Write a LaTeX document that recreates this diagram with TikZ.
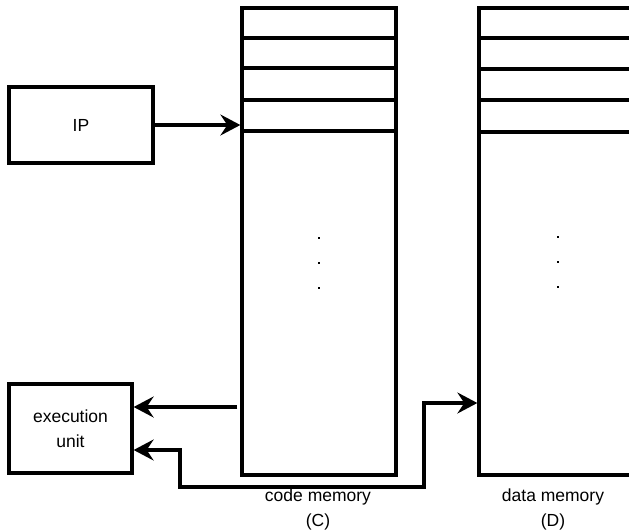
\documentclass[tikz,border=0pt]{standalone}
\usepackage{fontspec}
\setmainfont{Liberation Sans}
\usetikzlibrary{arrows.meta}
\begin{document}
\begin{tikzpicture}[x=1pt,y=-1pt,
  tip/.tip={Stealth[length=20pt,width=21pt,inset=7pt]},
  box/.style={draw,line width=3.3pt,rectangle,inner sep=0pt},
  cell/.style={line width=3.3pt},
  link/.style={line width=3.1pt,-tip},
  both/.style={line width=3.1pt,tip-tip},
  lbl/.style={font=\fontsize{17.5}{25}\selectfont,align=center,inner sep=0pt},
  dot/.style={rectangle,fill,inner sep=0pt,minimum size=2.4pt}]
\useasboundingbox (0,0) rectangle (629,530);
\clip (0,0) rectangle (629,530);

% processor side
\node[box,minimum width=144pt,minimum height=76pt,lbl] (ip) at (81,125) {IP};
\node[box,minimum width=123pt,minimum height=89pt,lbl] (exec) at (70.5,428.5) {execution\\unit};

% code memory with its first cells
\node[box,minimum width=154pt,minimum height=467pt] (code) at (319,241.5) {};
\foreach \y in {38,68,100,131}
  \draw[cell] (code.west |- 0,\y) -- (code.east |- 0,\y);
\foreach \y in {238,263,288}
  \node[dot] at (319,\y) {};
\node[lbl] (codelbl) at (318,509.5) {code memory\\(C)};

% data memory, running off the right edge
\node[box,minimum width=160pt,minimum height=467pt] (data) at (559,241.5) {};
\foreach \y in {38,69,100,132}
  \draw[cell] (data.west |- 0,\y) -- (data.east |- 0,\y);
\foreach \y in {237,262,287}
  \node[dot] at (558,\y) {};
\node[lbl] (datalbl) at (553,509.5) {data memory\\(D)};

% connections
\draw[link] (ip.east |- 0,125) -- (code.west |- 0,125);
\draw[link] ([xshift=-3pt]code.west |- 0,407) -- (exec.east |- 0,407);
\draw[both] (exec.east |- 0,450) -- (180,450) -- (180,487) -- (424,487)
  -- (424,403) -- (data.west |- 0,403);
\end{tikzpicture}
\end{document}
